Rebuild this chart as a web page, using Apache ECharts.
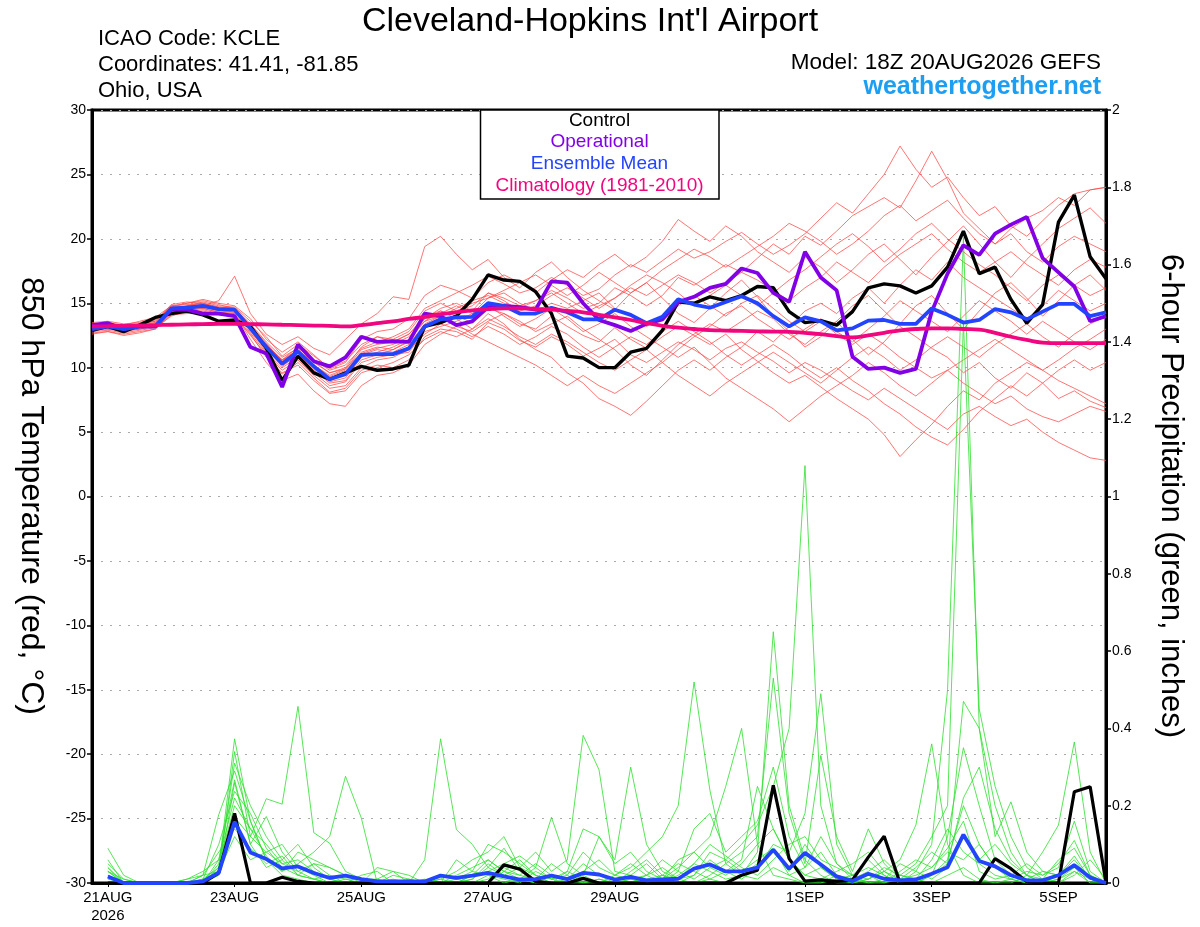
<!DOCTYPE html>
<html>
<head>
    <meta charset="utf-8">
    <title>KCLE GEFS meteogram</title>
    <script src="https://cdn.jsdelivr.net/npm/echarts@6/dist/echarts.min.js"></script>
    <style>
        body { margin: 0; background: #fff; }
    </style>
</head>
<body>
    <div id="main" style="width: 1200px;height:927px;"></div>

    <script type="text/javascript">
        // x axis: 65 steps of 6 h from 18Z 20AUG2026
        var tickIndex = [1, 9, 17, 25, 33, 45, 53, 61];
        var tickText = ['21AUG\n2026', '23AUG', '25AUG', '27AUG', '29AUG', '1SEP', '3SEP', '5SEP'];

        // 850 hPa temperature (C)
        var controlTemp = [12.9, 13.2, 12.8, 13.3, 13.9, 14.2, 14.4, 14.1, 13.6, 13.7,
            13.2, 11.5, 9.0, 10.9, 9.6, 9.1, 9.6, 10.1, 9.8, 9.9, 10.2,
            13.2, 13.5, 14.0, 15.3, 17.2, 16.8, 16.7, 15.9, 14.2, 10.9,
            10.75, 10.0, 10.0, 11.2, 11.5, 12.9, 15.1, 15.0, 15.5, 15.2,
            15.6, 16.3, 16.2, 14.35, 13.5, 13.65, 13.3, 14.35, 16.2, 16.5,
            16.35, 15.8, 16.35, 17.8, 20.6, 17.3, 17.8, 15.3, 13.45, 14.9,
            21.3, 23.4, 18.6, 16.9];
        var operTemp = [13.3, 13.45, 13.0, 13.2, 13.2, 14.5, 14.5, 14.2, 14.2, 14.0,
            11.6, 11.1, 8.5, 11.8, 10.5, 10.1, 10.8, 12.4, 12.0, 12.05, 12.0,
            14.2, 14.0, 13.3, 13.6, 14.7, 14.8, 14.7, 14.5, 16.7, 16.6,
            15.0, 13.7, 13.3, 12.85, 13.4, 13.75, 15.1, 15.5, 16.2, 16.5,
            17.7, 17.35, 15.8, 15.1, 19.0, 17.0, 16.0, 10.85, 9.9, 10.0,
            9.6, 9.9, 14.35, 17.3, 19.5, 18.75, 20.4, 21.1, 21.7, 18.5,
            17.4, 16.3, 13.6, 14.0];
        var meanTemp = [13.0, 13.2, 13.0, 13.2, 13.2, 14.6, 14.65, 14.8, 14.55, 14.5,
            13.05, 11.6, 10.3, 11.25, 10.1, 9.1, 9.5, 11.0, 11.05, 11.05, 11.5,
            13.2, 13.75, 13.9, 13.95, 15.0, 14.8, 14.2, 14.2, 14.65, 14.3,
            13.75, 13.75, 14.5, 14.1, 13.45, 13.95, 15.3, 14.9, 14.65, 15.1,
            15.55, 15.0, 14.0, 13.2, 13.9, 13.6, 12.9, 13.05, 13.65, 13.7,
            13.4, 13.4, 14.6, 14.1, 13.5, 13.7, 14.55, 14.3, 13.75, 14.35,
            14.95, 14.95, 14.0, 14.3];
        var climTemp = [13.2, 13.22, 13.25, 13.28, 13.3, 13.33, 13.36, 13.38, 13.4,
            13.4, 13.38, 13.36, 13.33, 13.3, 13.27, 13.24, 13.2,
            13.3, 13.45, 13.6, 13.78, 13.95,
            14.15, 14.3, 14.45, 14.55, 14.6, 14.6,
            14.55, 14.5, 14.4, 14.3,
            14.1, 13.9, 13.7, 13.45, 13.25,
            13.1, 13.0, 12.92, 12.88, 12.85, 12.82, 12.8,
            12.78, 12.7, 12.6, 12.45, 12.35,
            12.5, 12.7, 12.9, 13.0,
            13.05, 13.05, 13.0, 12.95,
            12.7, 12.4, 12.15, 11.95,
            11.9, 11.9, 11.9, 11.9];

        // ensemble members, temperature
        var tempMember01 = [13.4, 13.5, 13.3, 13.6, 13.9, 14.8, 15.0, 15.2, 14.9, 14.6,
            13.4, 12.0, 10.8, 11.5, 10.6, 9.8, 10.2, 11.5, 12.0, 12.4, 13.0,
            14.6, 15.2, 15.8, 16.4, 17.1, 16.5, 15.8, 16.2, 17.0, 16.4,
            15.6, 16.1, 17.2, 18.0, 17.4, 18.3, 19.2, 18.5, 19.0, 19.8,
            20.5, 19.6, 18.8, 19.5, 20.4, 21.6, 22.8, 22.0, 23.5, 25.0,
            27.2, 25.4, 24.0, 24.8, 23.2, 21.8, 22.5, 21.0, 20.2, 21.4, 22.6, 23.5, 23.8, 24.0];
        var tempMember02 = [12.6, 12.8, 12.5, 12.7, 13.0, 14.2, 14.3, 14.5, 14.2, 14.0,
            12.5, 11.0, 9.5, 10.4, 9.2, 8.1, 8.4, 9.8, 10.2, 10.0, 10.6,
            12.4, 13.0, 12.8, 12.2, 13.5, 13.0, 12.1, 11.6, 12.4, 11.8,
            10.9, 11.5, 12.2, 11.0, 10.4, 11.2, 12.0, 11.4, 10.6, 11.5,
            12.0, 11.2, 10.5, 9.6, 10.4, 9.8, 9.0, 8.2, 7.5, 8.4,
            7.6, 6.8, 6.0, 5.2, 6.4, 7.0, 6.2, 5.5, 6.0, 5.0, 4.2, 3.6, 3.0, 2.8];
        var tempMember03 = [13.2, 13.0, 12.8, 13.1, 13.3, 14.5, 14.8, 14.9, 14.6, 14.4,
            12.8, 11.4, 10.2, 10.9, 9.8, 8.8, 9.0, 10.6, 11.0, 11.4, 12.1,
            13.6, 14.4, 14.0, 13.5, 14.6, 14.2, 13.4, 13.0, 14.0, 13.2,
            12.5, 12.0, 13.1, 12.2, 11.5, 12.4, 13.2, 12.5, 11.8, 12.6,
            11.4, 10.5, 9.6, 8.8, 9.4, 8.5, 7.6, 6.8, 6.0, 4.8,
            3.1, 4.4, 5.6, 7.0, 8.2, 7.5, 8.8, 9.6, 10.4, 9.8, 10.6, 11.5, 12.2, 13.0];
        var tempMember04 = [13.0, 13.3, 13.1, 13.4, 13.6, 14.9, 15.1, 15.0, 14.7, 14.6,
            13.2, 11.8, 10.6, 11.6, 10.5, 9.6, 9.9, 11.2, 11.6, 11.4, 12.0,
            13.8, 14.6, 15.0, 14.4, 15.8, 15.4, 14.8, 15.2, 16.0, 15.4,
            14.6, 15.0, 16.2, 15.6, 14.8, 15.6, 17.0, 16.4, 17.2, 18.0,
            17.4, 18.5, 19.6, 18.8, 20.2, 19.5, 20.6, 21.8, 22.5, 23.2,
            22.4, 24.5, 26.8, 24.6, 22.0, 20.8, 19.6, 20.4, 19.0, 18.2, 19.4, 20.2, 19.6, 19.0];
        var tempMember05 = [13.5, 13.6, 13.4, 13.5, 13.8, 14.4, 14.6, 14.8, 15.2, 17.1,
            14.2, 12.6, 11.8, 12.4, 11.5, 11.0, 12.2, 13.4, 14.2, 15.5, 15.3,
            19.4, 20.2, 18.8, 17.6, 18.4, 17.0, 16.2, 17.4, 18.2, 17.0,
            16.0, 15.2, 14.5, 15.8, 16.6, 15.4, 14.2, 13.5, 14.6, 15.8,
            16.8, 15.5, 14.0, 12.8, 11.6, 12.4, 13.6, 12.2, 11.0, 12.0,
            13.4, 14.8, 15.6, 14.2, 13.0, 14.4, 15.8, 16.6, 15.4, 14.0, 15.2, 16.4, 17.2, 16.0];
        var tempMember06 = [12.8, 12.9, 12.7, 12.9, 13.1, 14.0, 14.4, 14.6, 14.3, 14.2,
            12.2, 10.4, 9.0, 9.5, 8.2, 7.2, 7.0, 8.6, 9.4, 9.6, 10.2,
            11.8, 12.6, 13.2, 12.8, 13.6, 14.2, 13.6, 12.8, 13.4, 14.0,
            13.0, 12.2, 11.4, 10.2, 9.4, 10.6, 11.8, 12.6, 13.4, 12.8,
            13.6, 14.4, 13.8, 12.6, 11.8, 12.8, 13.6, 14.8, 15.6, 14.4,
            13.2, 12.4, 11.5, 10.8, 9.6, 10.4, 9.2, 8.4, 9.6, 8.8, 7.6, 8.2, 7.4, 6.9];
        var tempMember07 = [13.1, 13.2, 13.0, 13.2, 13.5, 14.6, 14.8, 15.1, 14.8, 14.7,
            13.6, 12.4, 10.9, 11.8, 10.9, 10.0, 10.5, 11.8, 12.4, 12.0, 12.6,
            14.0, 14.4, 13.8, 13.0, 14.2, 13.4, 12.2, 11.4, 10.8, 9.6,
            8.8, 7.6, 7.0, 6.3, 7.4, 8.6, 9.8, 10.6, 9.8, 10.8,
            11.6, 12.8, 12.0, 13.2, 14.4, 15.0, 14.2, 15.4, 16.2, 15.0,
            16.4, 17.6, 16.8, 18.2, 17.0, 16.2, 15.4, 14.6, 13.8, 14.8, 16.0, 15.2, 14.4, 15.0];
        var tempMember08 = [13.3, 13.4, 13.2, 13.3, 13.7, 14.7, 15.0, 15.3, 15.0, 14.8,
            13.8, 12.2, 11.2, 12.0, 11.0, 9.9, 10.4, 12.2, 12.8, 13.0, 13.8,
            15.6, 16.4, 16.0, 15.4, 16.6, 17.2, 16.6, 15.8, 16.8, 17.6,
            17.0, 18.0, 18.8, 17.8, 18.6, 19.8, 21.5, 20.6, 19.8, 21.0,
            20.2, 19.0, 18.2, 17.4, 18.6, 17.8, 16.6, 17.6, 18.8, 19.6,
            18.4, 17.2, 18.6, 19.8, 21.0, 19.6, 18.2, 17.0, 18.4, 19.6, 20.8, 21.6, 22.4, 21.2];
        var tempMember09 = [12.9, 13.0, 12.9, 13.0, 13.2, 14.3, 14.5, 14.7, 14.4, 14.3,
            12.9, 11.2, 10.0, 10.8, 9.6, 8.6, 8.9, 10.4, 10.8, 11.0, 11.2,
            12.8, 13.2, 13.6, 14.2, 14.8, 14.0, 13.2, 13.8, 14.6, 13.8,
            12.8, 13.4, 14.2, 13.2, 12.4, 11.6, 10.8, 11.6, 10.4, 9.2,
            8.4, 7.6, 6.8, 5.8, 6.8, 7.8, 8.6, 9.4, 10.4, 9.6,
            8.6, 7.8, 8.8, 9.8, 10.6, 11.4, 12.2, 11.4, 10.6, 9.8, 9.0, 8.4, 7.8, 7.2];
        var tempMember10 = [13.2, 13.3, 13.1, 13.3, 13.4, 14.5, 14.7, 14.9, 14.5, 14.4,
            13.1, 11.6, 10.4, 11.2, 10.0, 9.0, 9.6, 11.0, 11.4, 11.2, 11.8,
            13.4, 14.0, 14.6, 15.2, 15.6, 15.0, 14.6, 15.2, 15.8, 15.0,
            14.2, 14.8, 15.4, 16.2, 15.6, 16.4, 17.2, 16.6, 15.8, 16.6,
            17.4, 16.8, 16.0, 15.2, 16.2, 17.0, 18.2, 17.4, 16.6, 17.8,
            18.8, 19.6, 20.4, 19.2, 18.2, 17.4, 18.2, 19.0, 18.0, 17.2, 16.4, 17.6, 18.4, 17.8];
        var tempMember11 = [13.0, 13.1, 12.9, 13.0, 13.3, 14.6, 14.7, 14.9, 14.6, 14.5,
            13.0, 11.5, 10.1, 11.0, 9.9, 8.9, 9.2, 10.8, 11.2, 11.6, 12.2,
            13.9, 14.2, 14.8, 14.2, 15.4, 15.8, 15.0, 14.4, 15.0, 14.6,
            15.2, 15.8, 14.6, 14.0, 13.2, 14.0, 14.8, 15.6, 14.8, 14.0,
            15.0, 15.6, 14.6, 13.6, 12.8, 13.6, 12.6, 11.8, 12.6, 11.8,
            10.8, 10.0, 9.2, 9.8, 8.8, 8.0, 7.2, 7.8, 6.8, 6.2, 5.8, 6.4, 7.0, 6.6];
        var tempMember12 = [13.4, 13.3, 13.2, 13.4, 13.6, 14.8, 14.9, 15.0, 14.7, 14.6,
            13.3, 11.9, 10.5, 11.4, 10.2, 9.3, 9.8, 11.1, 11.5, 11.8, 12.4,
            13.6, 14.0, 14.4, 15.0, 15.4, 16.0, 16.6, 17.2, 16.4, 15.6,
            16.4, 17.4, 16.6, 15.8, 16.6, 17.6, 18.4, 19.2, 18.6, 17.8,
            18.6, 19.4, 20.2, 21.2, 20.6, 19.8, 18.8, 19.6, 20.6, 21.8,
            22.6, 21.4, 22.2, 23.0, 21.6, 20.4, 19.6, 20.8, 21.6, 22.2, 23.2, 22.6, 23.8, 24.0];
        var tempMember13 = [12.7, 12.8, 12.6, 12.8, 13.0, 14.1, 14.2, 14.4, 14.1, 14.0,
            12.6, 10.8, 9.6, 10.2, 9.0, 8.0, 8.2, 9.6, 10.0, 10.4, 11.0,
            12.2, 12.8, 12.4, 13.0, 13.8, 13.2, 12.4, 11.8, 12.6, 12.0,
            11.2, 10.4, 9.8, 10.6, 11.4, 10.4, 9.4, 8.6, 7.8, 8.8,
            9.6, 10.4, 11.2, 10.4, 9.6, 8.8, 9.8, 10.8, 11.6, 10.8,
            9.8, 10.6, 11.6, 12.4, 11.6, 10.8, 11.8, 12.6, 13.4, 12.4, 11.6, 12.6, 13.4, 14.0];
        var tempMember14 = [13.1, 13.0, 13.0, 13.1, 13.4, 14.4, 14.6, 14.8, 14.5, 14.3,
            13.0, 11.7, 10.6, 11.4, 10.4, 9.6, 10.0, 11.6, 12.4, 12.2, 12.8,
            14.4, 15.0, 14.4, 14.8, 15.8, 15.2, 14.4, 14.8, 15.6, 16.2,
            15.4, 14.6, 15.4, 16.4, 17.2, 16.6, 15.8, 14.8, 15.6, 16.4,
            15.6, 14.8, 15.8, 16.8, 17.6, 18.6, 19.6, 20.4, 19.4, 18.2,
            19.2, 20.4, 21.2, 20.0, 19.0, 18.0, 17.2, 16.2, 15.2, 16.4, 17.2, 16.4, 15.6, 16.2];
        var tempMember15 = [12.9, 13.1, 12.8, 13.0, 13.2, 14.3, 14.5, 14.6, 14.3, 14.2,
            12.7, 11.1, 9.8, 10.6, 9.4, 8.4, 8.6, 10.0, 10.6, 10.8, 11.4,
            12.6, 13.4, 13.0, 12.4, 13.2, 12.6, 11.8, 12.4, 13.2, 12.6,
            11.6, 10.8, 11.6, 12.4, 11.8, 12.8, 13.6, 12.8, 12.0, 11.0,
            10.2, 11.0, 11.8, 11.0, 10.0, 9.2, 10.0, 9.0, 8.2, 7.2,
            6.4, 5.4, 4.6, 4.0, 5.2, 6.6, 7.6, 8.6, 7.8, 8.8, 9.8, 10.6, 9.8, 10.4];
        var tempMember16 = [13.3, 13.2, 13.0, 13.3, 13.5, 14.7, 14.8, 15.0, 14.6, 14.5,
            13.2, 11.8, 10.6, 11.2, 10.2, 9.4, 9.9, 11.4, 11.8, 12.0, 12.6,
            13.8, 14.0, 13.4, 12.6, 12.0, 11.4, 10.8, 10.2, 9.4, 8.6,
            9.4, 8.6, 8.0, 8.8, 9.6, 10.4, 11.4, 12.4, 13.2, 14.2,
            14.8, 13.8, 13.0, 12.2, 13.0, 13.8, 12.8, 12.0, 13.0, 14.0,
            15.2, 14.4, 13.6, 12.8, 14.0, 15.2, 14.4, 13.6, 12.6, 13.6, 12.8, 12.0, 11.4, 12.2];

        // 6-hour precipitation (inches); first step has no accumulation
        var controlPrecip = [null, 0, 0, 0, 0, 0, 0, 0, 0.026,
            0.18, 0, 0, 0.015, 0.004, 0, 0, 0,
            0, 0, 0, 0, 0, 0, 0, 0,
            0, 0.047, 0.036, 0.004, 0, 0, 0.012, 0,
            0, 0, 0, 0, 0, 0, 0, 0,
            0.02, 0.033, 0.253, 0.063, 0.005, 0.008, 0.004, 0.008,
            0.067, 0.121, 0, 0, 0, 0, 0, 0,
            0.063, 0.037, 0.003, 0, 0, 0.236, 0.249, 0];
        var meanPrecip = [null, 0.017, 0, 0, 0, 0, 0, 0.004, 0.027,
            0.158, 0.079, 0.062, 0.038, 0.043, 0.026, 0.013, 0.019,
            0.010, 0.004, 0.004, 0.004, 0.004, 0.019, 0.013, 0.019,
            0.026, 0.017, 0.009, 0.010, 0.019, 0.010, 0.026, 0.022,
            0.009, 0.016, 0.007, 0.009, 0.011, 0.037, 0.048, 0.030,
            0.030, 0.040, 0.086, 0.037, 0.078, 0.048, 0.017, 0.005,
            0.024, 0.011, 0.007, 0.009, 0.024, 0.041, 0.125, 0.057,
            0.043, 0.020, 0.007, 0.007, 0.020, 0.046, 0.014, 0];

        var precipMember01 = [null, 0.09, 0.02, 0, 0, 0, 0, 0.01, 0.04,
            0.373, 0.16, 0.06, 0.02, 0.01, 0, 0, 0,
            0, 0, 0, 0, 0, 0, 0.01, 0.03,
            0.02, 0, 0.01, 0.04, 0.17, 0.05, 0.02, 0,
            0, 0.01, 0, 0, 0.02, 0.05, 0.03, 0.01,
            0.02, 0.08, 0.65, 0.2, 0.06, 0.02, 0, 0,
            0.01, 0.03, 0, 0, 0.02, 0.06, 0.2, 0.1,
            0.04, 0.01, 0, 0, 0.02, 0.05, 0.01, 0];
        var precipMember02 = [null, 0.04, 0, 0, 0, 0, 0, 0, 0.02,
            0.34, 0.12, 0.218, 0.204, 0.457, 0.13, 0.103, 0.03,
            0.01, 0, 0, 0, 0, 0.02, 0.01, 0,
            0, 0.03, 0.06, 0.02, 0, 0, 0.01, 0,
            0.02, 0.04, 0.08, 0.12, 0.2, 0.52, 0.24, 0.05,
            0.02, 0.01, 0.04, 0.02, 0, 0, 0.01, 0.02,
            0.04, 0.02, 0, 0.03, 0.1, 0.5, 1.67, 0.4,
            0.2, 0.08, 0.02, 0, 0, 0.03, 0.01, 0];
        var precipMember03 = [null, 0.03, 0, 0, 0, 0, 0, 0.02, 0.177,
            0.29, 0.16, 0.06, 0.03, 0.05, 0.08, 0.12, 0.276,
            0.168, 0, 0.01, 0, 0, 0, 0, 0.02,
            0.06, 0.03, 0.01, 0, 0.02, 0.01, 0.05, 0.02,
            0, 0, 0.02, 0.06, 0.03, 0.01, 0.04, 0.06,
            0.1, 0.15, 0.25, 0.4, 1.08, 0.2, 0.05, 0.01,
            0, 0, 0.02, 0.01, 0, 0.02, 0.04, 0.01,
            0, 0, 0.02, 0.08, 0.15, 0.365, 0.08, 0];
        var precipMember04 = [null, 0.05, 0.01, 0, 0, 0, 0, 0, 0.06,
            0.267, 0.1, 0.172, 0.08, 0.03, 0.01, 0, 0,
            0.02, 0.03, 0, 0, 0.06, 0.373, 0.138, 0.1,
            0.04, 0.02, 0.01, 0, 0, 0.03, 0.01, 0,
            0, 0.02, 0, 0.01, 0.04, 0.08, 0.12, 0.25,
            0.4, 0.1, 0.02, 0.01, 0, 0, 0.02, 0.01,
            0.03, 0.06, 0.02, 0.05, 0.12, 0.2, 1.45, 0.45,
            0.25, 0.12, 0.04, 0.01, 0, 0.02, 0.06, 0.01];
        var precipMember05 = [null, 0.03, 0, 0, 0, 0, 0, 0.01, 0.1,
            0.237, 0.18, 0.09, 0.04, 0.02, 0.01, 0, 0.01,
            0, 0.04, 0.03, 0, 0, 0, 0, 0.01,
            0.05, 0.02, 0.04, 0.08, 0.03, 0.06, 0.382, 0.293,
            0.03, 0.02, 0.05, 0.01, 0, 0.02, 0.06, 0.03,
            0.01, 0.04, 0.1, 0.08, 0.18, 0.49, 0.1, 0.02,
            0.01, 0.03, 0.06, 0.15, 0.36, 0.1, 0.02, 0,
            0, 0.01, 0.03, 0.02, 0.05, 0.11, 0.02, 0];
        var precipMember06 = [null, 0.06, 0, 0, 0, 0, 0, 0, 0.05,
            0.2, 0.14, 0.1, 0.05, 0.06, 0.03, 0.01, 0,
            0, 0, 0, 0.01, 0, 0, 0.06, 0.03,
            0.1, 0.08, 0.05, 0.02, 0, 0, 0.02, 0.12,
            0.06, 0.3, 0.1, 0.03, 0.01, 0, 0.02, 0.05,
            0.08, 0.12, 0.53, 0.18, 0.05, 0.33, 0.12, 0.03,
            0.14, 0.05, 0.01, 0, 0.02, 0.12, 0.35, 0.2,
            0.06, 0.02, 0, 0, 0.01, 0.04, 0, 0];
        var precipMember07 = [null, 0.02, 0, 0, 0, 0, 0, 0.02, 0.03,
            0.17, 0.12, 0.08, 0.1, 0.04, 0.02, 0, 0,
            0, 0, 0, 0, 0, 0, 0, 0,
            0.02, 0.01, 0, 0.03, 0.01, 0, 0, 0.01,
            0, 0, 0.01, 0.02, 0, 0, 0.01, 0,
            0.02, 0.05, 0.08, 0.03, 0.1, 0.04, 0.01, 0,
            0, 0, 0.01, 0.04, 0.08, 0.05, 0.47, 0.4,
            0.12, 0.21, 0.08, 0.03, 0.02, 0.06, 0.01, 0];
        var precipMember08 = [null, 0.01, 0, 0, 0, 0, 0.01, 0.02, 0.08,
            0.14, 0.09, 0.05, 0.07, 0.02, 0.01, 0.02, 0.01,
            0.01, 0, 0.02, 0.01, 0, 0.01, 0.03, 0.06,
            0.08, 0.12, 0.04, 0.02, 0.01, 0.03, 0.14, 0.12,
            0.05, 0.08, 0.03, 0.01, 0.06, 0.08, 0.04, 0.02,
            0.05, 0.1, 0.14, 0.06, 0.02, 0.01, 0.03, 0.05,
            0.08, 0.03, 0.01, 0.02, 0.04, 0.08, 0.06, 0.1,
            0.04, 0.02, 0.01, 0.03, 0.02, 0.04, 0.02, 0];
        var precipMember09 = [null, 0, 0, 0, 0, 0, 0, 0, 0.03,
            0.12, 0.06, 0.08, 0.05, 0.03, 0.05, 0.02, 0,
            0, 0, 0, 0, 0, 0, 0, 0,
            0.01, 0.04, 0.02, 0.05, 0.02, 0.01, 0, 0,
            0, 0.01, 0.02, 0.04, 0.01, 0.02, 0.08, 0.06,
            0.03, 0.06, 0.09, 0.02, 0.04, 0.12, 0.05, 0.02,
            0, 0.01, 0.05, 0.03, 0.01, 0.04, 0.12, 0.06,
            0.1, 0.05, 0.02, 0, 0.01, 0.03, 0, 0];
        var precipMember10 = [null, 0.03, 0.01, 0, 0, 0, 0, 0, 0.04,
            0.31, 0.2, 0.12, 0.06, 0.02, 0.05, 0.04, 0.02,
            0.01, 0.01, 0.03, 0.02, 0, 0.01, 0, 0.02,
            0.03, 0.05, 0.07, 0.04, 0.01, 0.02, 0.08, 0.04,
            0.02, 0.05, 0.02, 0, 0.03, 0.14, 0.18, 0.08,
            0.12, 0.16, 0.3, 0.12, 0.04, 0.08, 0.02, 0.01,
            0.02, 0, 0.03, 0.06, 0.04, 0.09, 0.16, 0.03,
            0.01, 0.02, 0.05, 0.02, 0.04, 0.16, 0.03, 0];
        var precipMember11 = [null, 0.02, 0, 0, 0, 0, 0.01, 0.03, 0.06,
            0.22, 0.14, 0.07, 0.03, 0.08, 0.06, 0.04, 0.02,
            0, 0, 0, 0, 0.01, 0, 0.02, 0.04,
            0.06, 0.03, 0.02, 0.01, 0.05, 0.02, 0, 0.01,
            0, 0.03, 0.06, 0.02, 0.01, 0.05, 0.1, 0.07,
            0.04, 0.02, 0.06, 0.1, 0.12, 0.06, 0.04, 0.02,
            0.06, 0.02, 0, 0.01, 0.02, 0.05, 0.22, 0.3,
            0.14, 0.06, 0.02, 0.01, 0.06, 0.09, 0.02, 0];
        var precipMember12 = [null, 0.04, 0, 0, 0, 0, 0, 0.01, 0.02,
            0.26, 0.1, 0.04, 0.06, 0.1, 0.04, 0.01, 0,
            0, 0.01, 0, 0, 0, 0, 0, 0.01,
            0.04, 0.09, 0.03, 0.01, 0, 0.01, 0.03, 0.06,
            0.02, 0.01, 0, 0.02, 0.05, 0.03, 0.01, 0.03,
            0.06, 0.25, 0.14, 0.06, 0.02, 0.04, 0.01, 0,
            0.01, 0.04, 0.02, 0.01, 0.06, 0.14, 0.08, 0.05,
            0.02, 0.01, 0, 0.01, 0.02, 0.07, 0.01, 0];

        var tempMembers = [tempMember01, tempMember02, tempMember03, tempMember04,
            tempMember05, tempMember06, tempMember07, tempMember08, tempMember09,
            tempMember10, tempMember11, tempMember12, tempMember13, tempMember14,
            tempMember15, tempMember16];
        var precipMembers = [precipMember01, precipMember02, precipMember03, precipMember04,
            precipMember05, precipMember06, precipMember07, precipMember08,
            precipMember09, precipMember10, precipMember11, precipMember12];

        var font = "'Liberation Sans', Arial, Helvetica, sans-serif";

        var steps = [];
        for (var i = 0; i < controlTemp.length; i++) {
            steps.push(String(i));
        }
        function isTick(index) {
            return tickIndex.indexOf(index) >= 0;
        }

        var myChart = echarts.init(document.getElementById('main'));

        var series = [];
        tempMembers.forEach(function (m, k) {
            series.push({
                name: 'member' + (k + 1), type: 'line', data: m,
                yAxisIndex: 0, symbol: 'none', silent: true,
                lineStyle: {color: '#ff4a4a', width: 0.9, opacity: 0.85}
            });
        });
        precipMembers.forEach(function (m, k) {
            series.push({
                name: 'precip' + (k + 1), type: 'line', data: m,
                yAxisIndex: 1, symbol: 'none', silent: true,
                lineStyle: {color: '#2fe02f', width: 0.9, opacity: 0.9}
            });
        });
        series.push(
            {name: 'Control', type: 'line', data: controlTemp, yAxisIndex: 0,
                symbol: 'none', lineStyle: {color: '#000', width: 3.4}},
            {name: 'Control precip', type: 'line', data: controlPrecip, yAxisIndex: 1,
                symbol: 'none', lineStyle: {color: '#000', width: 3.2}},
            {name: 'Operational', type: 'line', data: operTemp, yAxisIndex: 0,
                symbol: 'none', lineStyle: {color: '#8200e6', width: 3.8}},
            {name: 'Ensemble Mean', type: 'line', data: meanTemp, yAxisIndex: 0,
                symbol: 'none', lineStyle: {color: '#2244ff', width: 3.8}},
            {name: 'Mean precip', type: 'line', data: meanPrecip, yAxisIndex: 1,
                symbol: 'none', lineStyle: {color: '#2244ff', width: 3.8}},
            {name: 'Climatology (1981-2010)', type: 'line', data: climTemp, yAxisIndex: 0,
                symbol: 'none', smooth: true, lineStyle: {color: '#f0067e', width: 3.8}}
        );

        option = {
            animation: false,
            backgroundColor: '#fff',
            textStyle: {fontFamily: font},
            title: [{
                text: "Cleveland-Hopkins Int'l Airport",
                left: 585, top: 0, textAlign: 'center',
                textStyle: {fontSize: 34, fontWeight: 'normal', color: '#000', fontFamily: font}
            }],
            grid: {
                left: 92, right: 94, top: 110, bottom: 44,
                show: true, borderColor: '#000', borderWidth: 3
            },
            xAxis: {
                type: 'category',
                boundaryGap: false,
                data: steps,
                axisLine: {onZero: false, lineStyle: {color: '#000', width: 3}},
                axisTick: {
                    length: 4, lineStyle: {color: '#000', width: 1},
                    interval: function (index) { return isTick(index); }
                },
                axisLabel: {
                    interval: function (index) { return isTick(index); },
                    formatter: function (value, index) {
                        var k = tickIndex.indexOf(Number(value));
                        return k >= 0 ? tickText[k] : '';
                    },
                    color: '#000', fontSize: 15, margin: 6, lineHeight: 18, fontFamily: font
                },
                splitLine: {show: false}
            },
            yAxis: [{
                type: 'value', min: -30, max: 30, interval: 5,
                position: 'left',
                axisLine: {show: true, lineStyle: {color: '#000', width: 3}},
                axisTick: {show: true, length: 5, lineStyle: {color: '#000', width: 1.5}},
                axisLabel: {color: '#000', fontSize: 14, margin: 6, fontFamily: font},
                splitLine: {show: true, lineStyle: {color: '#aaa', width: 1, type: [2, 7]}}
            }, {
                type: 'value', min: 0, max: 2, interval: 0.2,
                position: 'right',
                axisLine: {show: true, lineStyle: {color: '#000', width: 3}},
                axisTick: {show: true, length: 5, lineStyle: {color: '#000', width: 1.5}},
                axisLabel: {color: '#000', fontSize: 14, margin: 6, fontFamily: font},
                splitLine: {show: false}
            }],
            graphic: [
                {type: 'text', left: 98, top: 28, z: 100,
                    style: {text: 'ICAO Code: KCLE', font: '22px ' + font, fill: '#000'}},
                {type: 'text', left: 98, top: 54, z: 100,
                    style: {text: 'Coordinates: 41.41, -81.85', font: '22px ' + font, fill: '#000'}},
                {type: 'text', left: 98, top: 80, z: 100,
                    style: {text: 'Ohio, USA', font: '22px ' + font, fill: '#000'}},
                {type: 'text', right: 99, top: 51, z: 100,
                    style: {text: 'Model: 18Z 20AUG2026 GEFS', font: '22.5px ' + font, fill: '#000'}},
                {type: 'text', right: 99, top: 75, z: 100,
                    style: {text: 'weathertogether.net', font: 'bold 25px ' + font, fill: '#1c9ff2'}},
                {type: 'text', x: 31, y: 496, rotation: -Math.PI / 2, z: 100,
                    style: {text: '850 hPa Temperature (red, \u00b0C)', font: '32px ' + font,
                        fill: '#000', textAlign: 'center', textVerticalAlign: 'middle'}},
                {type: 'text', x: 1171, y: 496, rotation: -Math.PI / 2, z: 100,
                    style: {text: '6-hour Precipitation (green, inches)', font: '31px ' + font,
                        fill: '#000', textAlign: 'center', textVerticalAlign: 'middle'}},
                {type: 'rect', z: 100,
                    shape: {x: 480.5, y: 110, width: 238.5, height: 89},
                    style: {fill: '#fff', stroke: '#000', lineWidth: 1.5}},
                {type: 'text', x: 599.5, y: 121, z: 101,
                    style: {text: 'Control', font: '19px ' + font, fill: '#000',
                        textAlign: 'center', textVerticalAlign: 'middle'}},
                {type: 'text', x: 599.5, y: 142, z: 101,
                    style: {text: 'Operational', font: '19px ' + font, fill: '#8200e6',
                        textAlign: 'center', textVerticalAlign: 'middle'}},
                {type: 'text', x: 599.5, y: 164, z: 101,
                    style: {text: 'Ensemble Mean', font: '19px ' + font, fill: '#2244ff',
                        textAlign: 'center', textVerticalAlign: 'middle'}},
                {type: 'text', x: 599.5, y: 186, z: 101,
                    style: {text: 'Climatology (1981-2010)', font: '19px ' + font, fill: '#f0067e',
                        textAlign: 'center', textVerticalAlign: 'middle'}}
            ],
            series: series
        };

        myChart.setOption(option);
    </script>
</body>
</html>
